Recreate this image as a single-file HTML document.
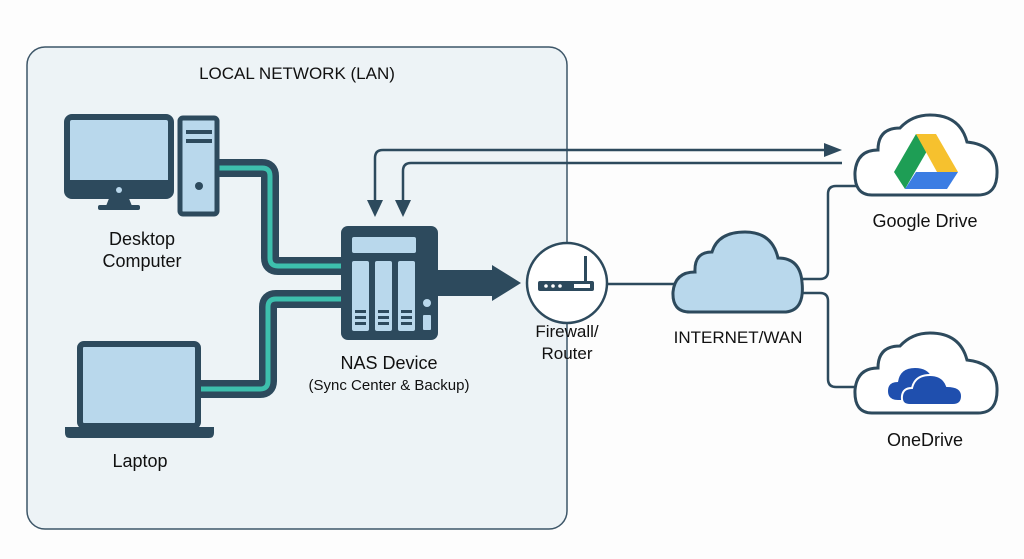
<!DOCTYPE html>
<html><head><meta charset="utf-8"><style>
html,body{margin:0;padding:0;background:#fff;}
svg{display:block;font-family:"Liberation Sans",Arial,sans-serif;}
</style></head><body>
<svg width="1024" height="559" viewBox="0 0 1024 559" xmlns="http://www.w3.org/2000/svg">
<rect x="0" y="0" width="1024" height="559" fill="#fdfdfd"/>
<rect x="27" y="47" width="540" height="482" rx="18" fill="#edf3f6" stroke="#3d5668" stroke-width="1.5"/>
<text x="297" y="79" font-size="17" text-anchor="middle" fill="#111">LOCAL NETWORK (LAN)</text>

<!-- cables -->
<g fill="none" stroke-linejoin="round">
<path d="M218 168 H262 Q270 168 270 176 V258 Q270 266 278 266 H342" stroke="#2d4a5d" stroke-width="18"/>
<path d="M218 168 H262 Q270 168 270 176 V258 Q270 266 278 266 H342" stroke="#3dbfad" stroke-width="5"/>
<path d="M342 299 H276 Q268 299 268 307 V381 Q268 389 260 389 H198" stroke="#2d4a5d" stroke-width="18"/>
<path d="M342 299 H276 Q268 299 268 307 V381 Q268 389 260 389 H198" stroke="#3dbfad" stroke-width="5"/>
</g>

<!-- desktop -->
<rect x="67" y="117" width="104" height="79" rx="5" fill="#b9d8ec" stroke="#2d4a5d" stroke-width="6"/>
<rect x="67" y="180" width="104" height="16" fill="#2d4a5d"/>
<circle cx="119" cy="190" r="3" fill="#b9d8ec"/>
<path d="M110 196 h18 l4 10 h-26z" fill="#2d4a5d"/>
<rect x="98" y="205" width="42" height="5" rx="2" fill="#2d4a5d"/>
<rect x="180" y="118" width="37" height="96" rx="3" fill="#b9d8ec" stroke="#2d4a5d" stroke-width="5"/>
<rect x="186" y="130" width="26" height="4" fill="#2d4a5d"/>
<rect x="186" y="139" width="26" height="4" fill="#2d4a5d"/>
<circle cx="199" cy="186" r="4" fill="#2d4a5d"/>
<text x="142" y="245" font-size="18" text-anchor="middle" fill="#111">Desktop</text>
<text x="142" y="267" font-size="18" text-anchor="middle" fill="#111">Computer</text>

<!-- laptop -->
<rect x="80" y="344" width="118" height="82" rx="4" fill="#b9d8ec" stroke="#2d4a5d" stroke-width="6"/>
<path d="M65 427 H214 V433 Q214 438 209 438 H70 Q65 438 65 433z" fill="#2d4a5d"/>
<text x="140" y="467" font-size="18" text-anchor="middle" fill="#111">Laptop</text>

<!-- NAS -->
<rect x="341" y="226" width="97" height="114" rx="7" fill="#2d4a5d"/>
<rect x="352" y="237" width="64" height="16" rx="2" fill="#b9d8ec"/>
<rect x="352" y="261" width="17" height="70" rx="2" fill="#b9d8ec"/>
<rect x="375" y="261" width="17" height="70" rx="2" fill="#b9d8ec"/>
<rect x="398" y="261" width="17" height="70" rx="2" fill="#b9d8ec"/>
<g fill="#2d4a5d"><rect x="355" y="310" width="11" height="3"/><rect x="355" y="316" width="11" height="3"/><rect x="355" y="322" width="11" height="3"/>
<rect x="378" y="310" width="11" height="3"/><rect x="378" y="316" width="11" height="3"/><rect x="378" y="322" width="11" height="3"/>
<rect x="401" y="310" width="11" height="3"/><rect x="401" y="316" width="11" height="3"/><rect x="401" y="322" width="11" height="3"/></g>
<circle cx="427" cy="303" r="4" fill="#b9d8ec"/>
<rect x="423" y="315" width="8" height="15" rx="1" fill="#b9d8ec"/>
<text x="389" y="369" font-size="18" text-anchor="middle" fill="#111">NAS Device</text>
<text x="389" y="390" font-size="15" text-anchor="middle" fill="#111">(Sync Center &amp; Backup)</text>

<!-- big arrow -->
<path d="M438 270 H492 V265 L521 283 L492 301 V296 H438z" fill="#2d4a5d"/>

<!-- sync arrows -->
<g fill="none" stroke="#2d4a5d" stroke-width="2.5">
<path d="M375 205 V158 Q375 150 383 150 H830"/>
<path d="M403 205 V171 Q403 163 411 163 H842"/>
</g>
<path d="M367 200 L375 217 L383 200z" fill="#2d4a5d"/>
<path d="M395 200 L403 217 L411 200z" fill="#2d4a5d"/>
<path d="M824 143 L842 150 L824 157z" fill="#2d4a5d"/>

<!-- router -->
<circle cx="567" cy="283" r="40" fill="#fff" stroke="#2d4a5d" stroke-width="2.5"/>
<rect x="538" y="281" width="56" height="10" rx="2" fill="#2d4a5d"/>
<rect x="584" y="256" width="3" height="26" fill="#2d4a5d"/>
<g fill="#fff"><circle cx="546" cy="286" r="1.8"/><circle cx="553" cy="286" r="1.8"/><circle cx="560" cy="286" r="1.8"/><rect x="574" y="284" width="16" height="4"/></g>
<text x="567" y="337" font-size="17" text-anchor="middle" fill="#111">Firewall/</text>
<text x="567" y="359" font-size="17" text-anchor="middle" fill="#111">Router</text>
<line x1="607" y1="284" x2="676" y2="284" stroke="#2d4a5d" stroke-width="2.5"/>

<!-- internet cloud -->
<path d="M690 312 Q672 312 673 292 Q675 272 695 272 Q694 252 712 252 Q718 232 745 232 Q772 232 778 258 Q800 258 802 282 Q805 310 786 312z" fill="#b9d8ec" stroke="#2d4a5d" stroke-width="3"/>
<text x="738" y="343" font-size="17" text-anchor="middle" fill="#111">INTERNET/WAN</text>
<g fill="none" stroke="#2d4a5d" stroke-width="2.5">
<path d="M802 279 H820 Q828 279 828 271 V194 Q828 186 836 186 H857"/>
<path d="M802 293 H820 Q828 293 828 301 V379 Q828 387 836 387 H857"/>
</g>

<!-- google cloud -->
<path d="M872 195 Q854 195 855 172 Q857 150 878 150 Q878 128 900 128 Q912 115 930 115 Q960 115 967 142 Q996 145 997 170 Q998 195 978 195z" fill="#fff" stroke="#2d4a5d" stroke-width="3"/>
<path d="M916 134 L894 172 L905 189 L927 151z" fill="#1e9e55"/>
<path d="M916 134 H936 L958 172 H937z" fill="#f6c12e"/>
<path d="M905 189 H947 L958 172 H916z" fill="#3b7de3"/>
<text x="925" y="227" font-size="18" text-anchor="middle" fill="#111">Google Drive</text>

<!-- onedrive cloud -->
<path d="M872 413 Q854 413 855 390 Q857 368 878 368 Q878 346 900 346 Q912 333 930 333 Q960 333 967 360 Q996 363 997 388 Q998 413 978 413z" fill="#fff" stroke="#2d4a5d" stroke-width="3"/>
<path d="M898 400 Q888 400 888 391 Q888 382 898 382 Q900 368 915 368 Q928 368 932 378 Q944 378 946 390 Q946 400 936 400z" fill="#1f4fae"/>
<path d="M910 405 Q901 405 902 396 Q903 388 912 388 Q915 375 930 375 Q943 375 947 386 Q962 386 962 396 Q962 405 953 405z" fill="#1f4fae" stroke="#fff" stroke-width="2"/>
<text x="925" y="446" font-size="18" text-anchor="middle" fill="#111">OneDrive</text>
</svg>
</body></html>
